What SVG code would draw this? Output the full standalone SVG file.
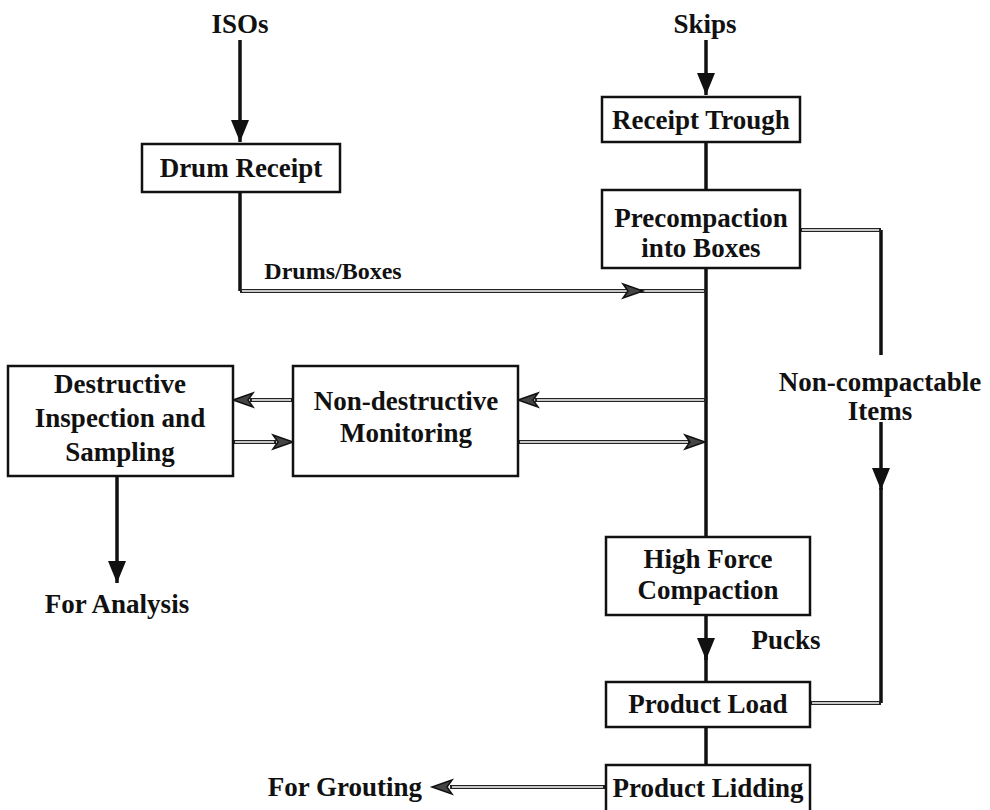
<svg xmlns="http://www.w3.org/2000/svg" width="990" height="810" viewBox="0 0 990 810">
<defs>
<style>
.box{fill:#fff;stroke:#111;stroke-width:2.5}
.t{font-family:"Liberation Serif","Times New Roman",serif;font-size:27px;font-weight:bold;fill:#111;text-anchor:middle}
.s{fill:none;stroke:#111;stroke-width:3.5}
.dO{fill:none;stroke:#222;stroke-width:4}
.dI{fill:none;stroke:#fff;stroke-width:1.3}
</style>
<marker id="ah" markerUnits="userSpaceOnUse" markerWidth="24" markerHeight="20" refX="22" refY="9" orient="auto">
<path d="M0,0 L22,9 L0,18 Z" fill="#111"/>
</marker>
<marker id="oh" markerUnits="userSpaceOnUse" markerWidth="22" markerHeight="18" refX="20" refY="8" orient="auto">
<path d="M0,1 L20,8 L0,15 L5,8 Z" fill="#444" stroke="#111" stroke-width="1.5"/>
</marker>
</defs>
<rect width="990" height="810" fill="#fff"/>

<g id="connectors">
<!-- solid -->
<path class="s" d="M240,40 V142" marker-end="url(#ah)"/>
<path class="s" d="M706,40 V95" marker-end="url(#ah)"/>
<path class="s" d="M706,142 V190"/>
<path class="s" d="M240,192 V291"/>
<path class="s" d="M706,268 V537"/>
<path class="s" d="M117,476 V583" marker-end="url(#ah)"/>
<path class="s" d="M881,230 V355"/>
<path class="s" d="M881,422 V490" marker-end="url(#ah)"/>
<path class="s" d="M881,488 V703"/>
<path class="s" d="M706,615 V660" marker-end="url(#ah)"/>
<path class="s" d="M706,655 V682"/>
<path class="s" d="M706,727 V765"/>
<!-- double (hollow) lines -->
<g id="dbl-outer">
<path class="dO" d="M240,291 H630"/>
<path class="dO" d="M640,291 H706"/>
<path class="dO" d="M706,400 H535"/>
<path class="dO" d="M518,442 H690"/>
<path class="dO" d="M293,400 H250"/>
<path class="dO" d="M233,442 H276"/>
<path class="dO" d="M800,230 H881"/>
<path class="dO" d="M810,703 H881"/>
<path class="dO" d="M605,787 H450"/>
</g>
<g id="dbl-inner">
<path class="dI" d="M242,291 H628"/>
<path class="dI" d="M642,291 H704"/>
<path class="dI" d="M704,400 H537"/>
<path class="dI" d="M520,442 H688"/>
<path class="dI" d="M291,400 H252"/>
<path class="dI" d="M235,442 H274"/>
<path class="dI" d="M802,230 H879"/>
<path class="dI" d="M812,703 H879"/>
<path class="dI" d="M603,787 H452"/>
</g>
<g id="open-heads">
<path d="M623,284 L643,291 L623,298 L628,291 Z" fill="#444" stroke="#111" stroke-width="1.5"/>
<path d="M538,393 L518,400 L538,407 L533,400 Z" fill="#444" stroke="#111" stroke-width="1.5"/>
<path d="M685,435 L705,442 L685,449 L690,442 Z" fill="#444" stroke="#111" stroke-width="1.5"/>
<path d="M253,393 L233,400 L253,407 L248,400 Z" fill="#444" stroke="#111" stroke-width="1.5"/>
<path d="M273,435 L293,442 L273,449 L278,442 Z" fill="#444" stroke="#111" stroke-width="1.5"/>
<path d="M452,780 L432,787 L452,794 L447,787 Z" fill="#444" stroke="#111" stroke-width="1.5"/>
</g>
</g>

<g id="isos"><text class="t" x="240" y="33">ISOs</text></g>
<g id="skips"><text class="t" x="705" y="33">Skips</text></g>

<g id="drum-receipt">
<rect class="box" x="142" y="144" width="198" height="48"/>
<text class="t" x="241" y="177">Drum Receipt</text>
</g>
<g id="receipt-trough">
<rect class="box" x="602" y="97" width="198" height="45"/>
<text class="t" x="701" y="129">Receipt Trough</text>
</g>
<g id="precompaction">
<rect class="box" x="602" y="190" width="198" height="78"/>
<text class="t" x="701" y="227">Precompaction</text>
<text class="t" x="701" y="257">into Boxes</text>
</g>
<g id="drums-boxes-label"><text class="t" x="333" y="279" style="font-size:24px">Drums/Boxes</text></g>

<g id="destructive">
<rect class="box" x="8" y="366" width="225" height="110"/>
<text class="t" x="120" y="393">Destructive</text>
<text class="t" x="120" y="427">Inspection and</text>
<text class="t" x="120" y="461">Sampling</text>
</g>
<g id="non-destructive">
<rect class="box" x="293" y="366" width="225" height="110"/>
<text class="t" x="406" y="410">Non-destructive</text>
<text class="t" x="406" y="442">Monitoring</text>
</g>
<g id="non-compactable">
<text class="t" x="880" y="391">Non-compactable</text>
<text class="t" x="880" y="420">Items</text>
</g>
<g id="for-analysis"><text class="t" x="117" y="613">For Analysis</text></g>

<g id="high-force">
<rect class="box" x="606" y="537" width="204" height="78"/>
<text class="t" x="708" y="568">High Force</text>
<text class="t" x="708" y="599">Compaction</text>
</g>
<g id="pucks"><text class="t" x="786" y="649">Pucks</text></g>
<g id="product-load">
<rect class="box" x="606" y="682" width="204" height="45"/>
<text class="t" x="708" y="713">Product Load</text>
</g>
<g id="product-lidding">
<rect class="box" x="606" y="765" width="204" height="48"/>
<text class="t" x="708" y="797">Product Lidding</text>
</g>
<g id="for-grouting"><text class="t" x="345" y="796">For Grouting</text></g>
</svg>
